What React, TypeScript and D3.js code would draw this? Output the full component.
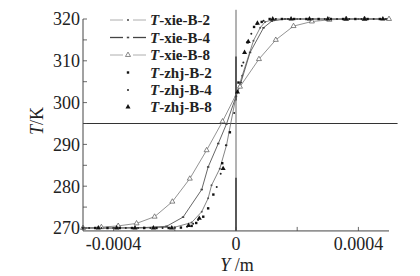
import React from 'react';
import * as d3 from 'd3';

// Y values in units of 1e-4 m, T in K
type P = [number, number];

const xieB2: P[] = [[-5,270],[-4,270],[-3,270],[-2,270.2],[-1.45,271.3],[-1.12,273.9],[-0.91,277.1],[-0.8,280.2],[-0.53,284.2],[-0.31,289.8],[0,301.5],[0.2,306.4],[0.57,314.8],[0.79,317.9],[0.95,319.3],[1.3,320],[2,320],[3,320],[4,320],[5,320]];
const xieB4: P[] = [[-5,270],[-4,270],[-3,270.1],[-2.27,270.4],[-1.73,272.6],[-1.12,279.2],[-0.91,284.6],[-0.58,290.2],[-0.31,294.9],[0,301.5],[0.16,304.8],[0.46,312],[0.9,317.9],[1.17,319.5],[1.6,320],[2.5,320],[3.5,320],[5,320]];
const xieB8: P[] = [[-5,270],[-4.4,270.2],[-3.85,270.5],[-3.25,271.1],[-2.66,272.7],[-2.08,276.3],[-1.51,281.8],[-0.96,288.6],[-0.44,295.5],[0.13,303.8],[0.75,310.4],[1.3,315],[1.88,318.3],[2.48,319.4],[3.05,319.8],[3.6,320],[4.2,320],[5,320]];

const zhjB2: P[] = [[-5,270],[-4.6,270],[-4.2,270],[-3.8,270],[-3.4,270],[-3.0,270],[-2.6,270],[-2.2,270],[-1.8,270.1],[-1.45,270.5],[-1.3,271.2],[-1.07,272.7],[-0.91,274.7],[-0.74,278.0],[-0.45,285.5],[-0.2,292.9],[0.08,304.8],[0.38,314.4],[0.59,318.1],[0.84,319.3],[1.1,320],[1.5,320],[1.9,320],[2.3,320],[2.7,320],[3.1,320],[3.5,320],[3.9,320],[4.3,320],[4.7,320]];
const zhjB4: P[] = [[-4.8,270],[-4.4,270],[-4.0,270],[-3.6,270],[-3.2,270],[-2.8,270],[-2.4,270],[-2.0,270],[-1.6,270.3],[-1.4,271.0],[-1.24,271.9],[-0.63,279.8],[-0.5,283.0],[-0.33,289.8],[-0.06,297.5],[0.19,308.8],[0.24,309.6],[0.5,316.5],[0.68,318.8],[0.9,319.6],[1.3,320],[1.7,320],[2.1,320],[2.5,320],[2.9,320],[3.3,320],[3.7,320],[4.1,320],[4.5,320],[4.9,320]];
const zhjB8: P[] = [[-4.5,270],[-3.9,270],[-3.3,270],[-2.7,270],[-2.1,270],[-1.55,270.6],[-1.2,272.3],[-0.42,284.2],[0.05,302.5],[0.28,312.0],[0.4,314.6],[0.7,319.0],[1.2,320],[1.8,320],[2.4,320],[3.0,320],[3.6,320],[4.2,320],[4.8,320]];

const yTicks = [270, 275, 280, 285, 290, 295, 300, 305, 310, 315, 320];
const yLabels = [270, 280, 290, 300, 310, 320];
const xTicks = [-4, -2, 0, 2, 4];
const xLabels = [-4, 0, 4];
const xLabelText = ['-0.0004', '0', '0.0004'];
const refT = 295;
const zeroHeavy: [number, number][] = [[311, 300.5], [282, 269.4]];

const legendNames = ['xie-B-2', 'xie-B-4', 'xie-B-8', 'zhj-B-2', 'zhj-B-4', 'zhj-B-8'];

export default function App() {
  const x = d3.scaleLinear().domain([-5e-4, 5e-4]).range([83, 389]);
  const y = d3.scaleLinear().domain([270, 320]).range([228, 19]);
  const X = (v: number) => x(v * 1e-4);
  const line = d3.line<P>().x(d => X(d[0])).y(d => y(d[1]));
  const tri = d3.symbol().type(d3.symbolTriangle).size(11)()!;
  const triBig = d3.symbol().type(d3.symbolTriangle).size(11)()!;
  const font = 'Liberation Serif, Times New Roman, serif';
  const yBottom = y(269.3);

  const xieStyles = [
    { data: xieB2, stroke: '#666', w: 0.8 },
    { data: xieB4, stroke: '#555', w: 0.9 },
    { data: xieB8, stroke: '#777', w: 0.8 },
  ];

  const legendRows = [20, 37.5, 55, 72.5, 90, 107];

  return (
    <svg width={420} height={276} style={{ position: 'absolute', left: 0, top: 0, background: '#fff' }} fontFamily={font}>
      {/* reference lines */}
      <line x1={x(-5e-4)} x2={x(5.28e-4)} y1={y(refT)} y2={y(refT)} stroke="#333" strokeWidth={1} />
      <line x1={x(0)} x2={x(0)} y1={y(322.2)} y2={yBottom} stroke="#666" strokeWidth={1} />
      {zeroHeavy.map((s, i) => (
        <line key={i} x1={x(0)} x2={x(0)} y1={y(s[0])} y2={y(s[1])} stroke="#333" strokeWidth={1.4} />
      ))}

      {/* xie lines */}
      {xieStyles.map((s, i) => (
        <path key={i} d={line(s.data)!} fill="none" stroke={s.stroke} strokeWidth={s.w} />
      ))}
      {xieB2.map((d, i) => <circle key={'a' + i} cx={X(d[0])} cy={y(d[1])} r={1} fill="#555" />)}
      {xieB4.map((d, i) => <rect key={'b' + i} x={X(d[0]) - 1.2} y={y(d[1]) - 0.8} width={2.4} height={1.6} fill="#444" />)}
      {xieB8.map((d, i) => <path key={'c' + i} d={tri} transform={`translate(${X(d[0])},${y(d[1])})`} fill="#fff" stroke="#555" strokeWidth={0.7} />)}

      {/* zhj scatter */}
      {zhjB2.map((d, i) => <rect key={'d' + i} x={X(d[0]) - 1.2} y={y(d[1]) - 1.2} width={2.4} height={2.4} fill="#111" />)}
      {zhjB4.map((d, i) => <circle key={'e' + i} cx={X(d[0])} cy={y(d[1])} r={1} fill="#222" />)}
      {zhjB8.map((d, i) => <path key={'f' + i} d={triBig} transform={`translate(${X(d[0])},${y(d[1])})`} fill="#111" />)}

      {/* axes */}
      <line x1={x(-5e-4)} x2={x(-5e-4)} y1={y(320)} y2={yBottom} stroke="#444" strokeWidth={1} />
      <line x1={x(-5e-4)} x2={x(5e-4)} y1={yBottom} y2={yBottom} stroke="#444" strokeWidth={1} />
      {yTicks.map(t => (
        <line key={t} x1={x(-5e-4)} x2={x(-5e-4) + 4} y1={y(t)} y2={y(t)} stroke="#444" strokeWidth={0.8} />
      ))}
      {xTicks.map(t => (
        <line key={t} x1={X(t)} x2={X(t)} y1={yBottom} y2={yBottom - 4} stroke="#444" strokeWidth={0.8} />
      ))}
      {yLabels.map(t => (
        <text key={t} x={80} y={y(t)} dy="0.35em" textAnchor="end" fontSize={18} fill="#222">{t}</text>
      ))}
      {xLabels.map((t, i) => (
        <text key={t} x={X(t)} y={250} textAnchor="middle" fontSize={18} fill="#222">{xLabelText[i]}</text>
      ))}
      <text transform={`translate(43,121) rotate(-90)`} textAnchor="middle" fontSize={18} fill="#222">
        <tspan fontStyle="italic">T</tspan>/K
      </text>
      <text x={237} y={271} textAnchor="middle" fontSize={18} fill="#222">
        <tspan fontStyle="italic">Y</tspan> /m
      </text>

      {/* legend */}
      {legendNames.map((n, i) => {
        const cy = legendRows[i];
        let sample: React.ReactNode = null;
        if (i === 0) sample = (<g><line x1={110} x2={123} y1={cy} y2={cy} stroke="#999" strokeWidth={0.8} /><circle cx={128} cy={cy} r={1} fill="#444" /><line x1={133} x2={146} y1={cy} y2={cy} stroke="#999" strokeWidth={0.8} /></g>);
        if (i === 1) sample = (<g><line x1={110} x2={123} y1={cy} y2={cy} stroke="#444" strokeWidth={1.3} /><rect x={126.8} y={cy - 0.8} width={2.4} height={1.6} fill="#444" /><line x1={133} x2={146} y1={cy} y2={cy} stroke="#444" strokeWidth={1.3} /></g>);
        if (i === 2) sample = (<g><line x1={110} x2={123} y1={cy} y2={cy} stroke="#999" strokeWidth={0.8} /><path d={tri} transform={`translate(128,${cy})`} fill="#fff" stroke="#555" strokeWidth={0.7} /><line x1={133} x2={146} y1={cy} y2={cy} stroke="#999" strokeWidth={0.8} /></g>);
        if (i === 3) sample = <rect x={126.8} y={cy - 1.2} width={2.4} height={2.4} fill="#111" />;
        if (i === 4) sample = <circle cx={128} cy={cy} r={1} fill="#222" />;
        if (i === 5) sample = <path d={triBig} transform={`translate(128,${cy})`} fill="#111" />;
        return (
          <g key={n}>
            {sample}
            <text x={150} y={cy + 5} fontSize={15} fontWeight="bold" fill="#222">
              <tspan fontStyle="italic">T</tspan>-{n}
            </text>
          </g>
        );
      })}
    </svg>
  );
}
